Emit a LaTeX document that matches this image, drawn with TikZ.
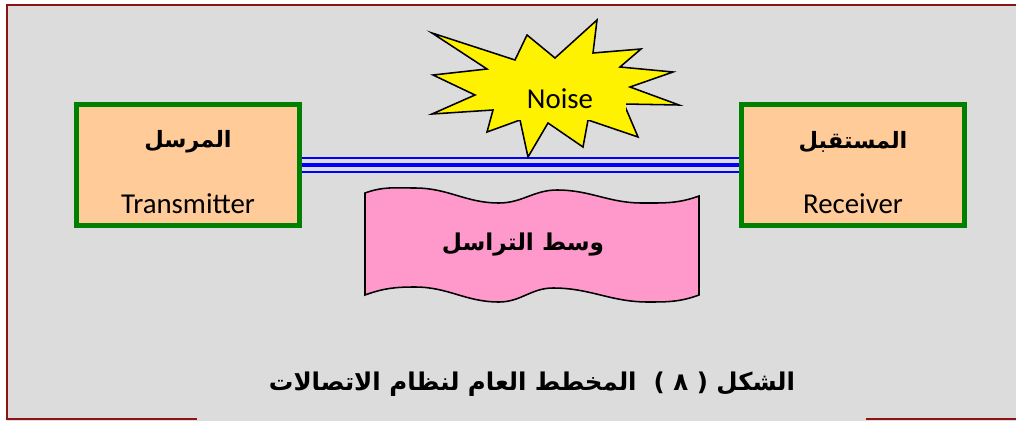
\documentclass[tikz,border=0pt]{standalone}
\usepackage{fontspec}
\setmainfont{Carlito}
\newfontfamily\arabicfont[Script=Arabic]{DejaVu Sans}
\TeXXeTstate=1
\definecolor{panel}{RGB}{220,220,220}
\definecolor{framered}{RGB}{140,20,20}
\definecolor{peach}{RGB}{255,204,153}
\definecolor{boxgreen}{RGB}{0,128,0}
\definecolor{bannerpink}{RGB}{255,153,204}

\begin{document}
\begin{tikzpicture}[x=0.025cm,y=-0.025cm,
  block/.style={draw=boxgreen,line width=3.5pt,fill=peach,
    minimum width=5.575cm,minimum height=3.025cm},
  arlabel/.style={font=\arabicfont\bfseries\fontsize{16}{20}\selectfont},
  enlabel/.style={font=\fontsize{20.5}{24}\selectfont},
  chan/.style={draw=blue,line width=3.5pt},
  chanthin/.style={draw=blue,line width=1.4pt},
  frame/.style={draw=framered,line width=2.1pt},
  burst/.style={draw=black,line width=1.1pt,fill=yellow,line join=miter},
  ]
\useasboundingbox (0,0) rectangle (1016,421);
\fill[panel] (7,5) rectangle (1016,421);
\draw[frame] (1016,5) -- (7,5) -- (7,419) -- (197,419);
\draw[frame] (866,419) -- (1016,419);

\node[block] (tx) at (188,165) {};
\node[block] (rx) at (853,165) {};
\node[arlabel] (txar) at (188,142) {\beginR المرسل\endR};
\node[enlabel] (txen) at (188,204) {Transmitter};
\node[arlabel] (rxar) at (853,142) {\beginR المستقبل\endR};
\node[enlabel] (rxen) at (853,204) {Receiver};

\draw[chan] (tx.east) -- (rx.west);
\draw[chanthin] ([yshift=4.75pt]tx.east) -- ([yshift=4.75pt]rx.west);
\draw[chanthin] ([yshift=-4.75pt]tx.east) -- ([yshift=-4.75pt]rx.west);

\draw[burst] (432,33) -- (515,60) -- (527,35) -- (555,58) -- (597,20)
  -- (593,53) -- (641,49) -- (620,67) -- (673,72) -- (630,87) -- (679,105)
  -- (624,104) -- (638,137) -- (588,120) -- (583,147) -- (548,123)
  -- (528,157) -- (520,120) -- (487,132) -- (493,110) -- (432,114)
  -- (475,95) -- (433,75) -- (487,69) -- cycle;
\node[enlabel,fill=yellow,minimum width=3.3cm,minimum height=1.05cm]
  (noise) at (560,99) {Noise};

\draw[black,line width=1.1pt,fill=bannerpink]
  (365,193) to[out=20,in=180] (415,188) to[out=0,in=180] (499,203)
  to[out=0,in=180] (557,190) to[out=0,in=180] (642,203)
  to[out=0,in=200] (699,196) -- (699,295)
  to[out=200,in=0] (648,302) to[out=180,in=0] (553,288)
  to[out=180,in=0] (499,302) to[out=180,in=0] (415,287)
  to[out=180,in=20] (365,295) -- cycle;
\node[arlabel,font=\arabicfont\bfseries\fontsize{16.5}{20}\selectfont]
  (medium) at (523,245) {\beginR وسط التراسل\endR};

\node[font=\arabicfont\bfseries\fontsize{17.4}{21}\selectfont]
  (caption) at (532,384) {\beginR الشكل ( ٨ )\ \ المخطط العام لنظام الاتصالات\endR};
\end{tikzpicture}
\end{document}
